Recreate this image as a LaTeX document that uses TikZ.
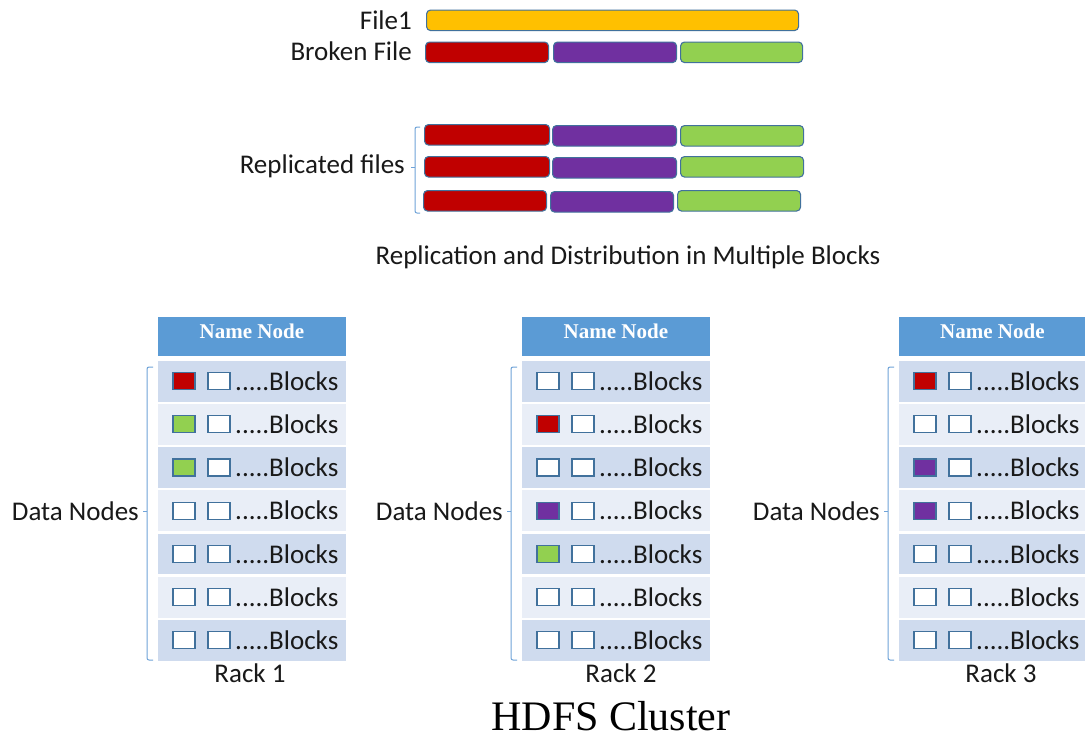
\documentclass[tikz,border=0pt]{standalone}
\usepackage{fontspec}
\setmainfont{Carlito}
\newfontfamily\serifb{Liberation Serif}
\definecolor{barline}{HTML}{41719C}
\definecolor{fyellow}{HTML}{FFC000}
\definecolor{fred}{HTML}{C00000}
\definecolor{fpurple}{HTML}{7030A0}
\definecolor{fgreen}{HTML}{92D050}
\definecolor{hdrblue}{HTML}{5B9BD5}
\definecolor{rowdark}{HTML}{CFDBEE}
\definecolor{rowlight}{HTML}{E9EEF7}
\definecolor{brcol}{HTML}{6FA3D8}
\tikzset{
  bar/.style={draw=barline, line width=1.1pt, rounded corners=4pt, inner sep=0pt, minimum height=20.5pt, anchor=north west},
  lbl/.style={font=\fontsize{27}{31}\selectfont, inner sep=0pt, text=black!90},
  hdr/.style={fill=hdrblue, draw=white, line width=0.8pt, text=white, font=\serifb\bfseries\fontsize{21}{25}\selectfont, minimum height=40pt, inner sep=0pt, text height=14pt, text depth=8pt},
  rowbox/.style={draw=white, line width=1.2pt, minimum height=42pt, inner sep=0pt},
  sq/.style={draw=barline, line width=1.1pt, minimum width=22pt, minimum height=17pt, inner sep=0pt},
  brc/.style={draw=brcol, line width=1pt, rounded corners=2pt},
}
\newcommand\drawrack[5]{%
  \node[hdr, minimum width=#3, anchor=north west] (h#1) at (#2,315.5) {Name Node};
  \foreach \i/\fc in {#4}{%
    \pgfmathsetmacro\yy{359.5+43.2*(\i-1)}%
    \ifodd\i\def\rc{rowdark}\else\def\rc{rowlight}\fi
    \node[rowbox, fill=\rc, minimum width=#3, anchor=north west] (r#1-\i) at (#2,\yy) {};
    \node[sq, fill=\fc] (a#1-\i) at ([xshift=27pt]r#1-\i.west) {};
    \node[sq, fill=white] (b#1-\i) at ([xshift=62pt]r#1-\i.west) {};
    \node[lbl, anchor=west] (t#1-\i) at ([xshift=78pt]r#1-\i.west) {.....Blocks};
  }
  \draw[brc] (#2-4,367) -- (#2-10,367) -- (#2-10,660) -- (#2-4,660);
  \draw[brc, rounded corners=0pt] (#2-10,511) -- (#2-14,511);
  \node[lbl, anchor=east] (d#1) at (#2-18,511) {Data Nodes};
  \node[lbl] (k#1) at (#5,673) {Rack #1};
}
\begin{document}
\begin{tikzpicture}[x=1pt,y=-1pt]
\useasboundingbox[fill=white] (0,0) rectangle (1085,737);
% top bars
\node[lbl, anchor=east] (f1) at (412,20) {File1};
\node[bar, fill=fyellow, minimum width=372] (y1) at (426,9.5) {};
\node[lbl, anchor=east] (bf) at (412,51) {Broken File};
\node[bar, fill=fred, minimum width=123] (b1) at (425,41.5) {};
\node[bar, fill=fpurple, minimum width=123] (b2) at (553,41.5) {};
\node[bar, fill=fgreen, minimum width=122] (b3) at (680,41.5) {};
% replicated
\node[bar, fill=fred, minimum width=125] (p11) at (424,124) {};
\node[bar, fill=fpurple, minimum width=124] (p12) at (552,125) {};
\node[bar, fill=fgreen, minimum width=123] (p13) at (680,125) {};
\node[bar, fill=fred, minimum width=125] (p21) at (424,156) {};
\node[bar, fill=fpurple, minimum width=124] (p22) at (552,157) {};
\node[bar, fill=fgreen, minimum width=123] (p23) at (680,156) {};
\node[bar, fill=fred, minimum width=123] (p31) at (423,190) {};
\node[bar, fill=fpurple, minimum width=123] (p32) at (550,191) {};
\node[bar, fill=fgreen, minimum width=123] (p33) at (677,190) {};
\draw[brc] (420,127) -- (415,127) -- (415,213) -- (420,213);
\draw[brc, rounded corners=0pt] (415,167) -- (411,167);
\node[lbl, anchor=east] (rf) at (405,166) {Replicated files};
\node[lbl] (cap) at (628,257) {Replication and Distribution in Multiple Blocks};
% racks
\drawrack{1}{157}{189}{1/fred,2/fgreen,3/fgreen,4/white,5/white,6/white,7/white}{250}
\drawrack{2}{521}{189}{1/white,2/fred,3/white,4/fpurple,5/fgreen,6/white,7/white}{621}
\drawrack{3}{898}{188}{1/fred,2/white,3/fpurple,4/fpurple,5/white,6/white,7/white}{1001}
\node[font=\serifb\fontsize{42}{46}\selectfont, anchor=base, inner sep=0pt] (hc) at (611,730) {HDFS Cluster};
\end{tikzpicture}
\end{document}
